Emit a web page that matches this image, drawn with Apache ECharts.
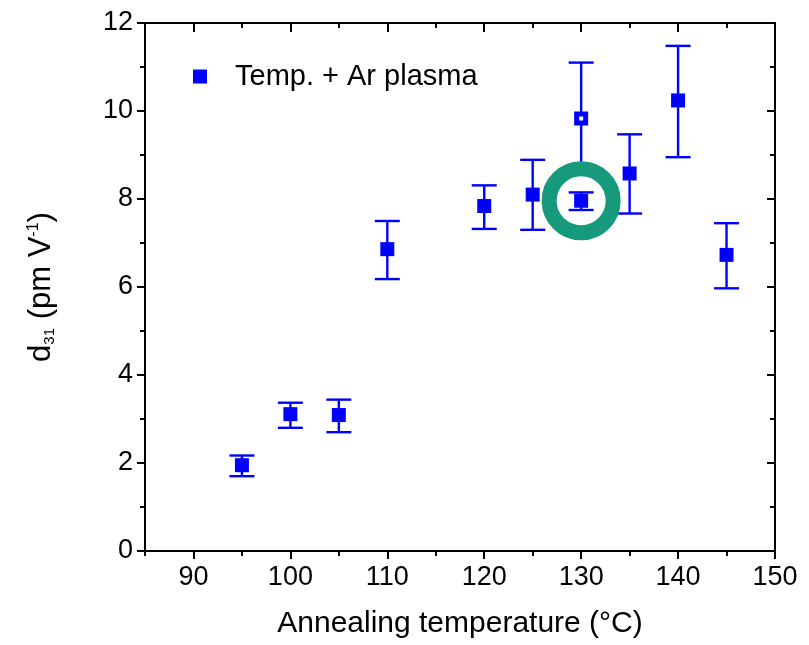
<!DOCTYPE html>
<html lang="en" style="height: 100%">
<head>
  <meta charset="utf-8">
</head>
<body style="height: 100%; margin: 0">
  <div id="container" style="width: 809px; height: 645px"></div>

  <script type="text/javascript" src="https://fastly.jsdelivr.net/npm/echarts@6/dist/echarts.min.js"></script>

  <script type="text/javascript">
    // annealing temperature (°C) and d31 (pm/V), with error bar ends
    var temps = [95, 100, 105, 110, 120, 125, 130, 135, 140, 145];
    var d31 = [1.95, 3.11, 3.09, 6.86, 7.84, 8.10, 7.96, 8.58, 10.24, 6.73];
    var errLow = [1.70, 2.80, 2.70, 6.18, 7.32, 7.30, 7.75, 7.67, 8.95, 5.97];
    var errHigh = [2.17, 3.37, 3.44, 7.50, 8.31, 8.89, 8.15, 9.47, 11.48, 7.45];

    // the open-square point at 130 °C
    var openTemp = [130];
    var openD31 = [9.83];
    var openLow = [8.56];
    var openHigh = [11.10];

    // circled point
    var markTemp = [130];
    var markD31 = [7.96];

    var xMajor = [90, 100, 110, 120, 130, 140, 150];

    var font = 'Liberation Sans, Arial, sans-serif';
    var blue = '#0000ff';

    var dom = document.getElementById('container');
    var myChart = echarts.init(dom, null, { renderer: 'canvas' });

    var points = temps.map(function (t, i) { return [t, d31[i]]; });
    var bars = temps.map(function (t, i) { return [t, errLow[i], errHigh[i]]; });
    openTemp.forEach(function (t, i) { bars.push([t, openLow[i], openHigh[i]]); });
    var openPts = openTemp.map(function (t, i) { return [t, openD31[i]]; });
    var markPts = markTemp.map(function (t, i) { return [t, markD31[i]]; });

    function errorBar(params, api) {
      var x = api.value(0);
      var lo = api.coord([x, api.value(1)]);
      var hi = api.coord([x, api.value(2)]);
      var half = 12.5;
      var style = { stroke: blue, lineWidth: 2.4 };
      return {
        type: 'group',
        children: [
          { type: 'line', shape: { x1: lo[0], y1: lo[1], x2: hi[0], y2: hi[1] }, style: style },
          { type: 'line', shape: { x1: lo[0] - half, y1: lo[1], x2: lo[0] + half, y2: lo[1] }, style: style },
          { type: 'line', shape: { x1: hi[0] - half, y1: hi[1], x2: hi[0] + half, y2: hi[1] }, style: style }
        ]
      };
    }

    var lineStyle = { color: '#000', width: 2 };

    function xAxisDef(pos, opts) {
      var a = {
        type: 'value', position: pos, min: 85, max: 150, interval: 5,
        splitLine: { show: false },
        axisLine: { show: true, onZero: false, lineStyle: lineStyle },
        axisLabel: { show: false },
        axisTick: { show: true, lineStyle: lineStyle }
      };
      return echarts.util.merge(a, opts, true);
    }

    function yAxisDef(pos, opts) {
      var a = {
        type: 'value', position: pos, min: 0, max: 12, interval: 2,
        splitLine: { show: false },
        axisLine: { show: true, onZero: false, lineStyle: lineStyle },
        axisLabel: { show: false },
        axisTick: { show: true, length: 8, lineStyle: lineStyle },
        minorTick: { show: true, splitNumber: 2, length: 5, lineStyle: lineStyle }
      };
      return echarts.util.merge(a, opts, true);
    }

    var option = {
      animation: false,
      grid: { left: 145, right: 34, top: 23, bottom: 94 },
      legend: {
        left: 188, top: 57,
        itemWidth: 14, itemHeight: 14,
        icon: 'rect',
        data: ['Temp. + Ar plasma'],
        textStyle: { fontFamily: font, fontSize: 29, color: '#000', padding: [0, 0, 0, 23] }
      },
      xAxis: [
        xAxisDef('bottom', {
          name: 'Annealing temperature (°C)', nameLocation: 'middle', nameGap: 58,
          nameTextStyle: { fontFamily: font, fontSize: 30, color: '#000' },
          axisTick: { length: 8, customValues: xMajor },
          axisLabel: { show: true, customValues: xMajor, margin: 13, fontFamily: font, fontSize: 27, color: '#000' }
        }),
        xAxisDef('bottom', { axisLine: { show: false }, axisTick: { length: 5 } }),
        xAxisDef('top', { axisTick: { inside: true, length: 9, customValues: xMajor } }),
        xAxisDef('top', { axisLine: { show: false }, axisTick: { inside: true, length: 5 } })
      ],
      yAxis: [
        yAxisDef('left', {
          name: '{n|d}{sub|31}{n| (pm V}{sup|-1}{n|)}', nameLocation: 'middle', nameGap: 88, nameRotate: 90,
          nameTextStyle: {
            fontFamily: font, color: '#000',
            rich: {
              n: { fontFamily: font, fontSize: 31, color: '#000', lineHeight: 31, verticalAlign: 'top' },
              sub: { fontFamily: font, fontSize: 15, color: '#000', lineHeight: 15, verticalAlign: 'bottom', padding: [26, 0, 0, 0] },
              sup: { fontFamily: font, fontSize: 16, color: '#000', lineHeight: 16, verticalAlign: 'top' }
            }
          },
          axisLabel: { show: true, margin: 12, fontFamily: font, fontSize: 27, color: '#000' }
        }),
        yAxisDef('right', { axisTick: { inside: true }, minorTick: { show: true } })
      ],
      series: [
        {
          type: 'custom', name: 'err', xAxisIndex: 0, yAxisIndex: 0,
          renderItem: errorBar, data: bars, encode: { x: 0, y: [1, 2] }, z: 2
        },
        {
          type: 'scatter', name: 'Temp. + Ar plasma', xAxisIndex: 0, yAxisIndex: 0,
          symbol: 'rect', symbolSize: 14, data: points,
          itemStyle: { color: blue, opacity: 1 }, z: 3
        },
        {
          type: 'scatter', name: 'open', xAxisIndex: 0, yAxisIndex: 0,
          symbol: 'rect', symbolSize: 9, data: openPts,
          itemStyle: { color: '#fff', borderColor: blue, borderWidth: 5, opacity: 1 }, z: 3
        },
        {
          type: 'scatter', name: 'mark', xAxisIndex: 0, yAxisIndex: 0,
          symbol: 'circle', symbolSize: 64, data: markPts, silent: true,
          itemStyle: { color: 'rgba(0,0,0,0)', borderColor: '#179a7b', borderWidth: 15, opacity: 1 }, z: 4
        }
      ]
    };

    myChart.setOption(option);
    window.addEventListener('resize', myChart.resize);
  </script>
</body>
</html>
